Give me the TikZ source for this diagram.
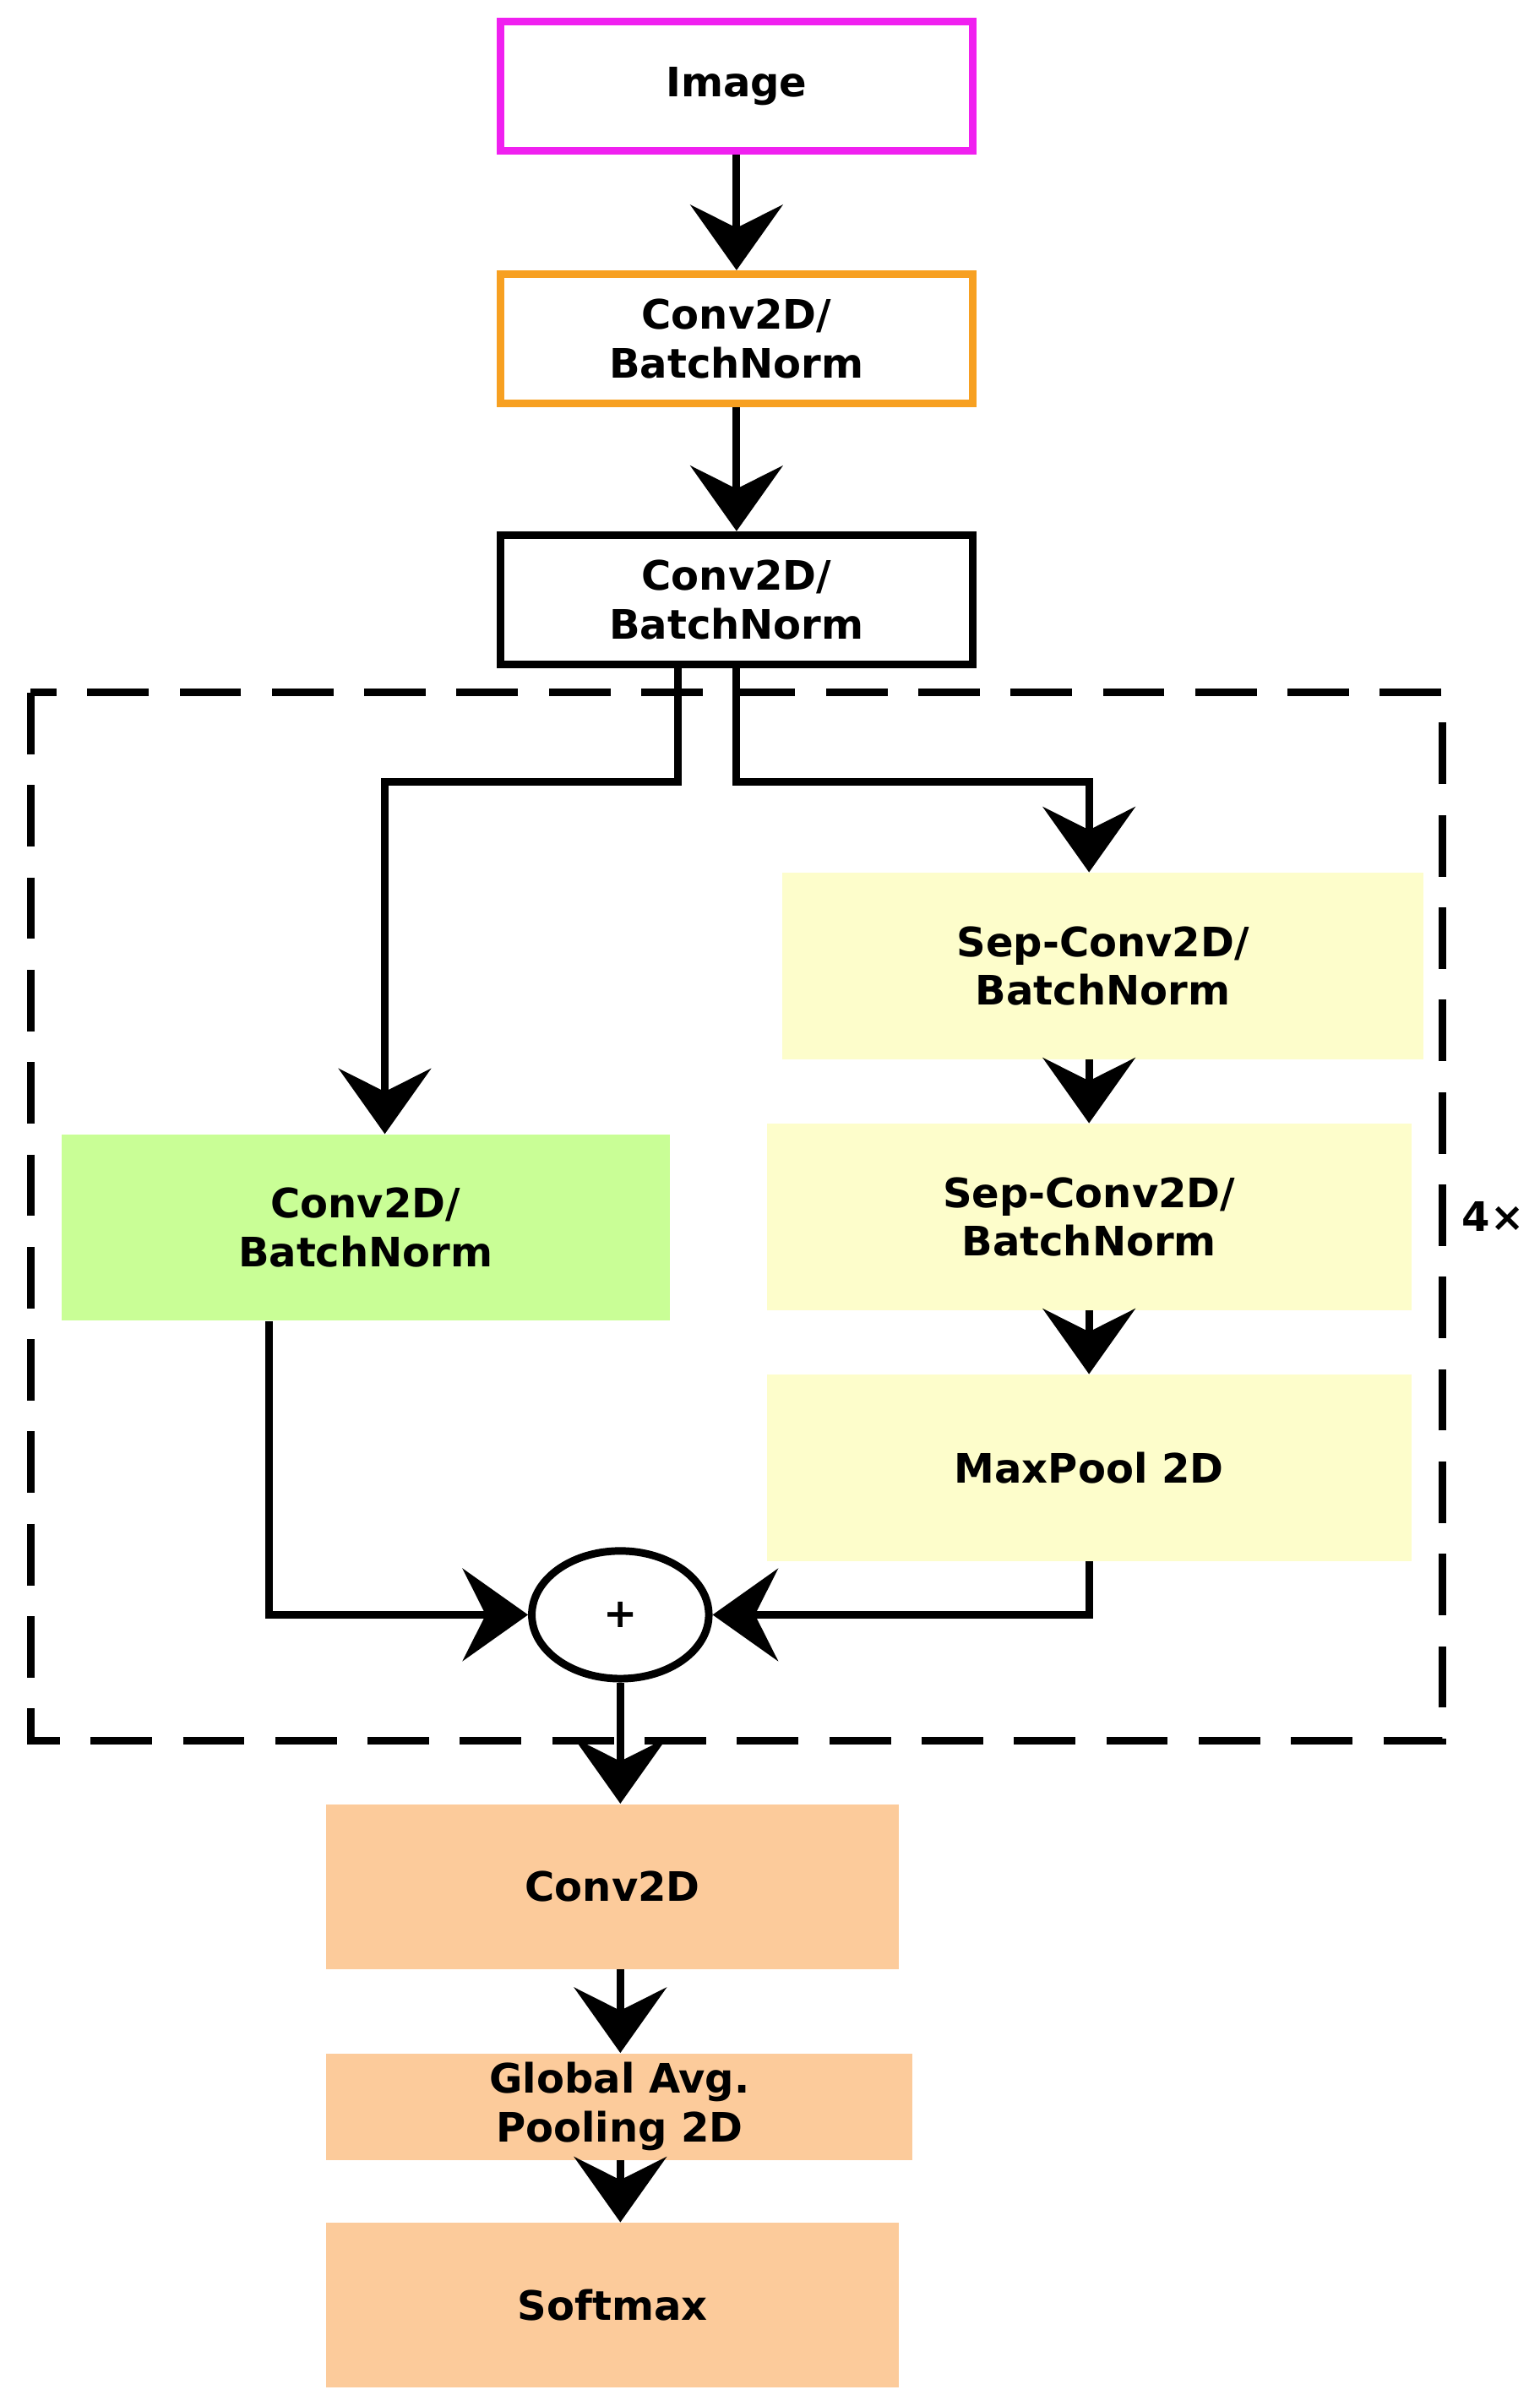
\documentclass[tikz,border=0pt]{standalone}
\usepackage{fontspec}
\setmainfont{DejaVu Sans}
\usetikzlibrary{arrows.meta,shapes.geometric}
\definecolor{mag}{HTML}{F020F0}
\definecolor{org}{HTML}{F7A021}
\definecolor{yel}{HTML}{FDFDCB}
\definecolor{grn}{HTML}{C9FE96}
\definecolor{pch}{HTML}{FCCB9B}
\begin{document}
\begin{tikzpicture}[x=0.02cm,y=-0.02cm,
  box/.style={rectangle,draw,line width=2.8pt,minimum width=6.14cm,minimum height=1.68cm,align=center,font=\bfseries\fontsize{15}{18}\selectfont},
  fbox/.style={rectangle,minimum width=8.36cm,minimum height=2.42cm,align=center,font=\bfseries\fontsize{15}{18}\selectfont},
  arr/.style={line width=2.8pt,-{Stealth[length=0.85cm,width=1.2cm,inset=0.3cm]}}]
\useasboundingbox (0,0) rectangle (1000,1563);
\node[box,draw=mag] (img) at (478.5,56) {Image};
\node[box,draw=org] (c1) at (478.5,220) {Conv2D/\\BatchNorm};
\node[box,draw=black] (blk) at (478.5,389.5) {Conv2D/\\BatchNorm};
\draw[line width=2.8pt,dash pattern=on 0.8cm off 0.4cm] (20,450) rectangle (937,1131);
\node[fbox,fill=yel,minimum width=8.34cm] (s1) at (716.5,627.5) {Sep-Conv2D/\\BatchNorm};
\node[fbox,fill=yel,minimum width=8.38cm] (s2) at (707.5,790.5) {Sep-Conv2D/\\BatchNorm};
\node[fbox,fill=yel,minimum width=8.38cm] (mp) at (707.5,953.5) {MaxPool 2D};
\node[fbox,fill=grn,minimum width=7.9cm] (gr) at (237.5,797.5) {Conv2D/\\BatchNorm};
\node[ellipse,draw,line width=2.8pt,minimum width=2.3cm,minimum height=1.66cm,font=\bfseries\fontsize{15}{18}\selectfont] (plus) at (403,1049) {+};
\node[fbox,fill=pch,minimum width=7.44cm,minimum height=2.14cm] (cv) at (398,1225.5) {Conv2D};
\node[fbox,fill=pch,minimum width=7.62cm,minimum height=1.34cm] (gap) at (402.5,1368.5) {Global Avg.\\Pooling 2D};
\node[fbox,fill=pch,minimum width=7.44cm,minimum height=2.14cm] (sm) at (398,1497.5) {Softmax};
\node[font=\bfseries\fontsize{15}{18}\selectfont] (four) at (970,790) {4×};
\draw[arr] (img) -- (c1);
\draw[arr] (c1) -- (blk);
\draw[arr] ([xshift=-0.76cm]blk.south) -- ++(0,74) -| ([xshift=0.25cm]gr.north);
\draw[arr] (blk.south) -- ++(0,74) -| (s2.north |- s1.north);
\draw[arr] (s2.north |- s1.south) -- (s2.north);
\draw[arr] (s2.south) -- (mp.north);
\draw[arr] ([xshift=-1.25cm]gr.south) |- (plus.west);
\draw[arr] (mp.south) |- (plus.east);
\draw[arr] (plus.south) -- (plus.south |- cv.north);
\draw[arr] (plus.south |- cv.south) -- (plus.south |- gap.north);
\draw[arr] (plus.south |- gap.south) -- (plus.south |- sm.north);
\end{tikzpicture}
\end{document}
